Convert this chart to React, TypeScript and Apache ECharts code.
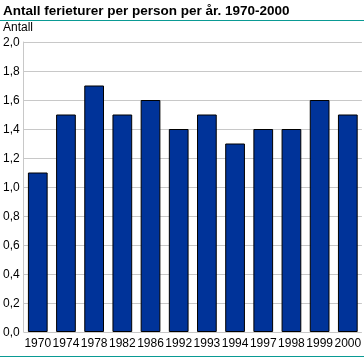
import React, { useEffect, useRef } from "react";
import * as echarts from "echarts";

const categories = ["1970", "1974", "1978", "1982", "1986", "1992", "1993", "1994", "1997", "1998", "1999", "2000"];
const values = [1.1, 1.5, 1.7, 1.5, 1.6, 1.4, 1.5, 1.3, 1.4, 1.4, 1.6, 1.5];
const titleText = "Antall ferieturer per person per år. 1970-2000";
const unitText = "Antall";

export default function App() {
  const ref = useRef<HTMLDivElement>(null);
  useEffect(() => {
    const chart = echarts.init(ref.current!, null, { renderer: "svg" });
    chart.setOption({
      animation: false,
      textStyle: { fontFamily: "Liberation Sans, Arial, sans-serif" },
      graphic: [
        { type: "text", left: 3, top: 3, style: { text: titleText, font: "bold 13.5px 'Liberation Sans', Arial, sans-serif", fill: "#000" } },
        { type: "line", shape: { x1: 0, y1: 20.5, x2: 364, y2: 20.5 }, style: { stroke: "#0a9a94", lineWidth: 1 } },
        { type: "text", left: 3, top: 21, style: { text: unitText, font: "12px 'Liberation Sans', Arial, sans-serif", fill: "#000" } },
        { type: "line", shape: { x1: 0, y1: 356.5, x2: 364, y2: 356.5 }, style: { stroke: "#0a9a94", lineWidth: 1 } },
      ],
      grid: { left: 22, right: 0, top: 42, bottom: 25, containLabel: false },
      xAxis: {
        type: "category",
        data: categories,
        axisLine: { show: false },
        axisTick: { show: false },
        axisLabel: { color: "#000", fontSize: 12, margin: 5, interval: 0 },
      },
      yAxis: {
        type: "value",
        min: 0,
        max: 2,
        interval: 0.2,
        axisLine: { show: true, lineStyle: { color: "#c8c8c8" } },
        axisTick: { show: false },
        splitLine: { lineStyle: { color: "#c8c8c8" } },
        axisLabel: {
          color: "#000",
          fontSize: 12,
          margin: 4,
          formatter: (v: number) => v.toFixed(1).replace(".", ","),
        },
      },
      series: [
        {
          type: "bar",
          data: values,
          barCategoryGap: "30%",
          itemStyle: { color: "#003399", borderColor: "#000", borderWidth: 1 },
        },
      ],
    });
    return () => chart.dispose();
  }, []);
  return <div ref={ref} style={{ position: "fixed", left: 0, top: 0, width: 364, height: 357 }} />;
}
